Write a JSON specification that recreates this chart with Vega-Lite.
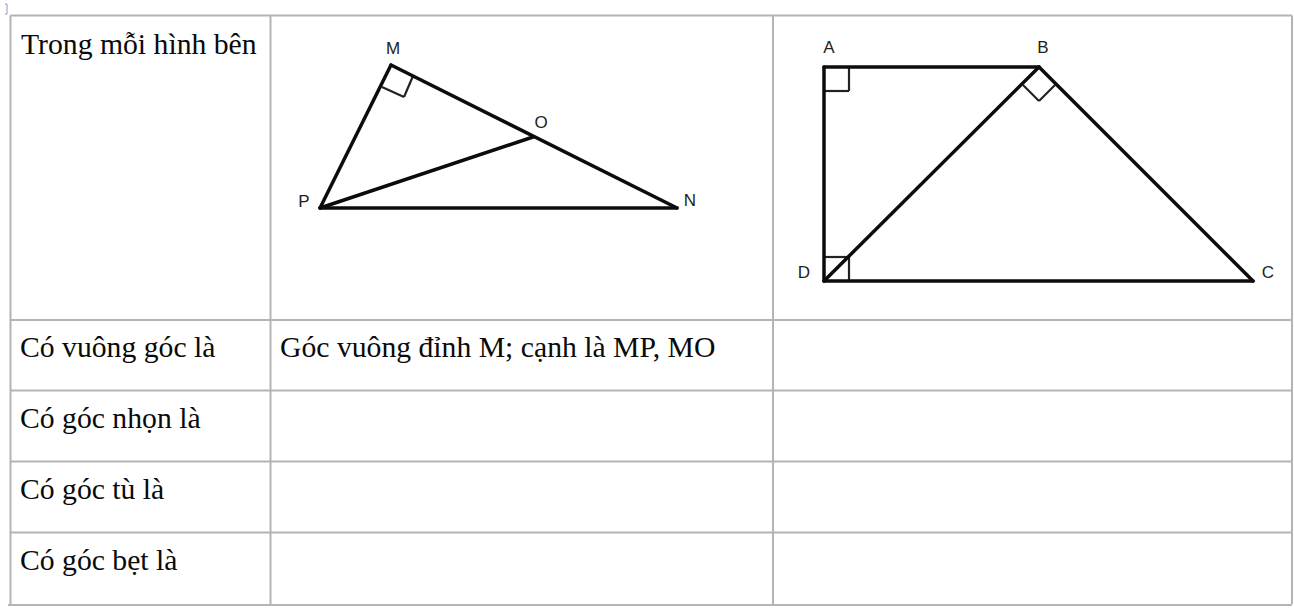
{"$schema":"https://vega.github.io/schema/vega-lite/v6.json","width":1294,"height":609,"padding":0,"autosize":{"type":"fit","contains":"padding"},"background":"white","view":{"stroke":null},
"datasets":{
"grid":[{"x":10.5,"y":15.5,"x2":1292,"y2":15.5},{"x":10.5,"y":320,"x2":1292,"y2":320},{"x":10.5,"y":390.5,"x2":1292,"y2":390.5},{"x":10.5,"y":461.5,"x2":1292,"y2":461.5},{"x":10.5,"y":532.5,"x2":1292,"y2":532.5},{"x":8,"y":605,"x2":1292,"y2":605},{"x":10.5,"y":15.5,"x2":10.5,"y2":604},{"x":270.5,"y":15.5,"x2":270.5,"y2":604},{"x":773,"y":15.5,"x2":773,"y2":604},{"x":1292,"y":15.5,"x2":1292,"y2":604}],
"thick":[{"x":391,"y":65,"x2":320,"y2":208},{"x":391,"y":65,"x2":677,"y2":208},{"x":320,"y":208,"x2":533,"y2":137},{"x":320,"y":208,"x2":677,"y2":208},{"x":824,"y":67,"x2":1039,"y2":67},{"x":824,"y":67,"x2":824,"y2":281},{"x":824,"y":281,"x2":1253,"y2":281},{"x":824,"y":281,"x2":1039,"y2":67},{"x":1039,"y":67,"x2":1253,"y2":281}],
"thin":[{"x":382,"y":87,"x2":404,"y2":97},{"x":404,"y":97,"x2":413,"y2":76},{"x":824,"y":91,"x2":849,"y2":91},{"x":849,"y":91,"x2":849,"y2":67},{"x":1023,"y":85,"x2":1039,"y2":101},{"x":1039,"y":101,"x2":1055,"y2":85},{"x":824,"y":257,"x2":849,"y2":257},{"x":849,"y":257,"x2":849,"y2":281}],
"mark":[{"x":5,"y":4,"x2":7,"y2":4},{"x":7,"y":4,"x2":7,"y2":14},{"x":5,"y":14,"x2":7,"y2":14}],
"serif":[{"x":21,"y":54,"t":"Trong mỗi hình bên"},{"x":20,"y":357,"t":"Có vuông góc là"},{"x":20,"y":428,"t":"Có góc nhọn là"},{"x":20,"y":499,"t":"Có góc tù là"},{"x":20,"y":570,"t":"Có góc bẹt là"},{"x":280,"y":357,"t":"Góc vuông đỉnh M; cạnh là MP, MO"}],
"sans":[{"x":393,"y":54,"t":"M"},{"x":541,"y":128,"t":"O"},{"x":304,"y":207,"t":"P"},{"x":690,"y":206,"t":"N"},{"x":829,"y":53,"t":"A"},{"x":1043,"y":53,"t":"B"},{"x":804,"y":278,"t":"D"},{"x":1268,"y":278,"t":"C"}]
},
"encoding":{"x":{"field":"x","type":"quantitative","scale":{"domain":[0,1294],"nice":false,"zero":false},"axis":null},"y":{"field":"y","type":"quantitative","scale":{"domain":[609,0],"nice":false,"zero":false},"axis":null}},
"layer":[
{"data":{"name":"mark"},"mark":{"type":"rule","color":"#8a9ac0","strokeWidth":1},"encoding":{"x2":{"field":"x2"},"y2":{"field":"y2"}}},
{"data":{"name":"grid"},"mark":{"type":"rule","color":"#b4b4b4","strokeWidth":2},"encoding":{"x2":{"field":"x2"},"y2":{"field":"y2"}}},
{"data":{"name":"thin"},"mark":{"type":"rule","color":"#222222","strokeWidth":2.2},"encoding":{"x2":{"field":"x2"},"y2":{"field":"y2"}}},
{"data":{"name":"thick"},"mark":{"type":"rule","color":"#0c0c0c","strokeWidth":3.5,"strokeCap":"round"},"encoding":{"x2":{"field":"x2"},"y2":{"field":"y2"}}},
{"data":{"name":"serif"},"mark":{"type":"text","font":"Liberation Serif","fontSize":29.7,"align":"left","baseline":"alphabetic","color":"#0a0a0a"},"encoding":{"text":{"field":"t"}}},
{"data":{"name":"sans"},"mark":{"type":"text","font":"Liberation Sans","fontSize":17,"align":"center","baseline":"alphabetic","color":"#222222"},"encoding":{"text":{"field":"t"}}}
]}
